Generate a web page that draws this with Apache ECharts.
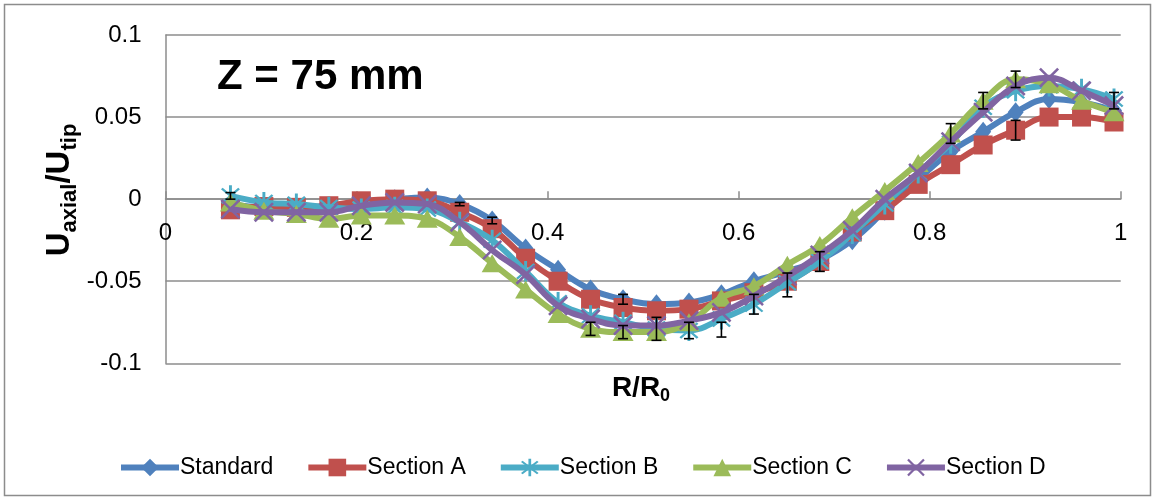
<!DOCTYPE html>
<html>
<head>
<meta charset="utf-8">
<script src="https://cdn.jsdelivr.net/npm/echarts@6/dist/echarts.min.js"></script>
<style>
html,body{margin:0;padding:0;background:#fff;}
#c{width:1155px;height:500px;}
</style>
</head>
<body>
<div id="c"></div>
<script>
// R/R0 positions
var rr = [0.068,0.103,0.137,0.171,0.205,0.240,0.274,0.308,0.342,0.377,0.411,0.445,0.479,0.514,0.548,0.582,0.616,0.651,0.685,0.719,0.753,0.788,0.822,0.856,0.890,0.925,0.959,0.993];
var standard = [-0.003,-0.005,-0.005,-0.005,-0.002,0.000,0.001,-0.003,-0.013,-0.030,-0.043,-0.055,-0.061,-0.064,-0.063,-0.058,-0.050,-0.044,-0.037,-0.025,-0.007,0.012,0.029,0.041,0.053,0.061,0.059,0.054];
var sectionA = [-0.0065,-0.0045,-0.005,-0.004,-0.001,0.000,-0.001,-0.008,-0.018,-0.036,-0.050,-0.061,-0.066,-0.068,-0.067,-0.062,-0.057,-0.050,-0.038,-0.020,-0.007,0.009,0.021,0.033,0.042,0.050,0.050,0.047];
var sectionB = [0.002,-0.002,-0.003,-0.005,-0.006,-0.005,-0.006,-0.014,-0.025,-0.044,-0.063,-0.071,-0.075,-0.079,-0.080,-0.073,-0.064,-0.051,-0.038,-0.021,-0.003,0.016,0.034,0.056,0.066,0.069,0.067,0.061];
var sectionC = [-0.002,-0.007,-0.009,-0.012,-0.010,-0.010,-0.012,-0.023,-0.039,-0.055,-0.070,-0.079,-0.081,-0.081,-0.075,-0.060,-0.053,-0.040,-0.028,-0.011,0.005,0.022,0.040,0.060,0.073,0.070,0.060,0.053];
var sectionD = [-0.006,-0.008,-0.008,-0.008,-0.004,-0.002,-0.003,-0.014,-0.031,-0.046,-0.065,-0.073,-0.077,-0.077,-0.074,-0.069,-0.059,-0.047,-0.034,-0.019,0.000,0.016,0.035,0.053,0.069,0.074,0.066,0.057];
// error bars: point index, low, high
var errIdx  = [0, 7, 8, 11, 12, 12, 13, 14, 15, 16, 17, 18, 22, 23, 24, 24, 27];
var errLow  = [0.000,-0.004,-0.015,-0.083,-0.085,-0.064,-0.086,-0.085,-0.084,-0.070,-0.0595,-0.044,0.034,0.055,0.068,0.036,0.055];
var errHigh = [0.004,-0.002,-0.011,-0.075,-0.077,-0.058,-0.072,-0.075,-0.075,-0.058,-0.045,-0.032,0.046,0.065,0.078,0.048,0.065];
var seriesNames = ['Standard','Section A','Section B','Section C','Section D'];
var xTicks = [0,0.2,0.4,0.6,0.8,1];
var yTicks = [-0.1,-0.05,0,0.05,0.1];

var colors = ['#4F81BD','#C0504D','#4BACC6','#9BBB59','#8064A2'];
var starPath = 'path://M-1.2,-10L1.2,-10L1.2,10L-1.2,10Z M6.364,-7.778L7.778,-6.364L-6.364,7.778L-7.778,6.364Z M-7.778,-6.364L-6.364,-7.778L7.778,6.364L6.364,7.778Z';
var xPath = 'path://M6.364,-7.778L7.778,-6.364L-6.364,7.778L-7.778,6.364Z M-7.778,-6.364L-6.364,-7.778L7.778,6.364L6.364,7.778Z';
var symbols = ['diamond','rect', starPath, 'triangle', xPath];
var symSizes = [[16,20],[19,19],[19,21],[21,18],[20,20]];
var allData = [standard, sectionA, sectionB, sectionC, sectionD];

function pairs(arr){ return arr.map(function(v,i){ return [rr[i], v]; }); }

var series = allData.map(function(arr, k){
  return {
    name: seriesNames[k],
    type: 'line',
    data: pairs(arr),
    smooth: 0.4,
    symbol: symbols[k],
    symbolSize: symSizes[k],
    showAllSymbol: true,
    lineStyle: {width: 6, color: colors[k]},
    itemStyle: {color: colors[k], borderWidth: 0},
    z: 3 + k,
    emphasis: {disabled: true},
    animation: false
  };
});

var errData = errIdx.map(function(ix, j){ return [rr[ix], errLow[j], errHigh[j]]; });
series.push({
  type: 'custom',
  name: 'err',
  data: errData,
  z: 20,
  animation: false,
  renderItem: function(params, api){
    var x = api.value(0);
    var p1 = api.coord([x, api.value(1)]);
    var p2 = api.coord([x, api.value(2)]);
    var hw = 5;
    var st = {stroke:'#000', lineWidth:1.6, fill:null};
    return {type:'group', children:[
      {type:'line', shape:{x1:p1[0],y1:p1[1],x2:p2[0],y2:p2[1]}, style:st},
      {type:'line', shape:{x1:p1[0]-hw,y1:p1[1],x2:p1[0]+hw,y2:p1[1]}, style:st},
      {type:'line', shape:{x1:p2[0]-hw,y1:p2[1],x2:p2[0]+hw,y2:p2[1]}, style:st}
    ]};
  },
  encode: {x: 0, y: [1,2]}
});

var chart = echarts.init(document.getElementById('c'), null, {renderer:'canvas'});
var FONT = 'Liberation Sans';
var gridTop = 35, gridBottom = 136.7;
var plotH = 500 - gridTop - gridBottom;
chart.setOption({
  animation: false,
  color: colors,
  textStyle: {fontFamily: FONT},
  grid: {left: 165.5, right: 34.3, top: gridTop, bottom: gridBottom, containLabel: false},
  xAxis: {
    type: 'value', min: xTicks[0], max: xTicks[xTicks.length-1], interval: 0.2,
    position: 'bottom', offset: -plotH / 2,
    axisLine: {onZero: false, lineStyle: {color: '#8c8c8c', width: 1.5}},
    axisTick: {show: true, inside: true, length: 8, lineStyle: {color: '#8c8c8c', width: 1.5}},
    axisLabel: {fontSize: 24, color: '#000', margin: 22, fontFamily: FONT},
    splitLine: {show: false}
  },
  yAxis: {
    type: 'value', min: yTicks[0], max: yTicks[yTicks.length-1], interval: 0.05,
    axisLine: {show: true, onZero: false, lineStyle: {color: '#8c8c8c', width: 1.5}},
    axisTick: {show: false},
    axisLabel: {fontSize: 24, color: '#000', margin: 24, fontFamily: FONT},
    splitLine: {show: true, lineStyle: {color: '#8c8c8c', width: 1.5}}
  },
  legend: {
    data: seriesNames,
    left: 113, top: 451,
    itemWidth: 58, itemHeight: 22, itemGap: 32,
    lineStyle: {width: 6},
    textStyle: {fontSize: 23, color: '#000', fontFamily: FONT, padding: [0,0,0,-4]},
    selectedMode: false
  },
  graphic: [
    {type:'rect', shape:{x:4.5,y:4.5,width:1146,height:491}, style:{fill:null, stroke:'#8c8c8c', lineWidth:1.5}, silent:true},
    {type:'text', left: 217, top: 56, style:{text:'Z = 75 mm', font:'bold 42px "Liberation Sans"', fill:'#000'}},
    {type:'text', x: 641, y: 388, style:{
      text:'{b|R/R}{s|0}', align:'center', verticalAlign:'middle',
      rich:{b:{fontSize:28, fontWeight:'bold', fontFamily:FONT, lineHeight:34, fill:'#000'},
            s:{fontSize:18, fontWeight:'bold', fontFamily:FONT, lineHeight:18, padding:[17,0,0,0], fill:'#000'}}
    }},
    {type:'text', x: 60, y: 190, rotation: Math.PI/2, style:{
      text:'{b|U}{s|axial}{b|/U}{s|tip}', align:'center', verticalAlign:'middle',
      rich:{b:{fontSize:33, fontWeight:'bold', fontFamily:FONT, lineHeight:40, fill:'#000'},
            s:{fontSize:22, fontWeight:'bold', fontFamily:FONT, lineHeight:22, padding:[20,0,0,0], fill:'#000'}}
    }}
  ],
  series: series
});
</script>
</body>
</html>
